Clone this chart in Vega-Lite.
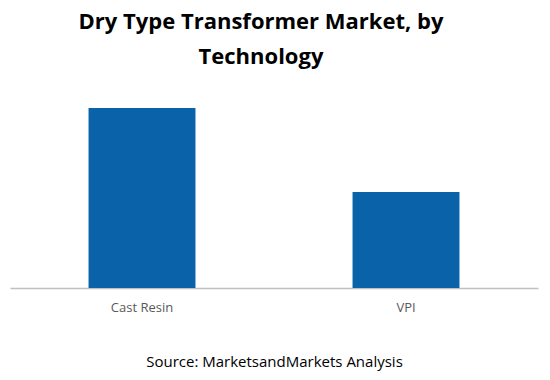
{
  "$schema": "https://vega.github.io/schema/vega-lite/v6.json",
  "autosize": {"type": "none"},
  "padding": {"left": 10, "top": 108, "right": 12, "bottom": 92},
  "width": 528,
  "height": 180,
  "background": "white",
  "title": {
    "text": ["Dry Type Transformer Market, by", "Technology"],
    "font": "Open Sans",
    "fontSize": 22,
    "fontWeight": "bold",
    "color": "#000000",
    "lineHeight": 35,
    "anchor": "middle",
    "dx": -13,
    "offset": 39
  },
  "data": {
    "values": [
      {"technology": "Cast Resin", "value": 100},
      {"technology": "VPI", "value": 53.3}
    ]
  },
  "mark": {"type": "bar", "color": "#0a63a8"},
  "encoding": {
    "x": {
      "field": "technology",
      "type": "nominal",
      "sort": null,
      "scale": {"paddingInner": 0.595, "paddingOuter": 0.2975},
      "axis": {
        "title": "Source: MarketsandMarkets Analysis",
        "titleFont": "Open Sans",
        "titleFontSize": 15,
        "titleFontWeight": "normal",
        "titleColor": "#000000",
        "titlePadding": 40,
        "labelAngle": 0,
        "labelFont": "Open Sans",
        "labelFontSize": 13,
        "labelColor": "#595959",
        "labelPadding": 13,
        "ticks": false,
        "domainColor": "#c0c0c0",
        "domainWidth": 1.5,
        "grid": false
      }
    },
    "y": {
      "field": "value",
      "type": "quantitative",
      "scale": {"domain": [0, 100]},
      "axis": null
    }
  },
  "config": {"view": {"stroke": null}}
}
